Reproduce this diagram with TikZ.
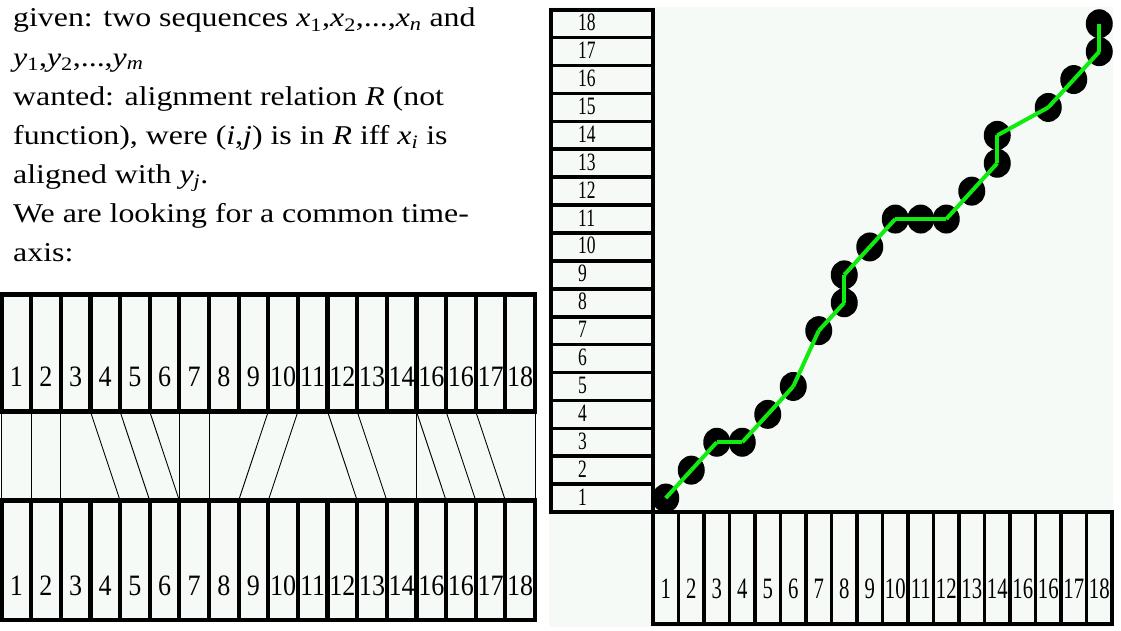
\documentclass[tikz,border=0pt]{standalone}
\usepackage{fontspec}
\setmainfont{Liberation Serif}
\usetikzlibrary{shapes.geometric}

\definecolor{paper}{RGB}{245,250,247}
\definecolor{warp}{RGB}{16,236,16}

\newcommand{\sq}[2]{\textit{#1}\textsubscript{#2}}

\begin{document}
\begin{tikzpicture}[x=1pt,y=-1pt,
    cell/.style={draw, line width=4.2pt, fill=paper, inner sep=0pt, minimum width=29.64pt},
    tick/.style={draw, line width=3.6pt, fill=paper, inner sep=0pt},
    digit/.style={inner sep=0pt, anchor=base, font=\fontsize{29.6}{30}\selectfont},
    rowdigit/.style={inner sep=0pt, anchor=base west, font=\fontsize{25}{26}\selectfont},
    link/.style={line width=0.9pt},
    dot/.style={ellipse, fill=black, inner sep=0pt, minimum width=27pt, minimum height=29pt},
    warppath/.style={warp, line width=4pt}]
  \useasboundingbox (0,0) rectangle (1121,631);

  % task text
  \node[anchor=base west, inner sep=0pt] (task) at (13,27) {\scalebox{1.08}[0.92]{%
    \fontsize{29.5}{42.4}\selectfont
    \begin{tabular}[t]{@{}l@{}}
      given: two sequences \sq{x}{1},\sq{x}{2},...,\sq{x}{\textit{n}} and\\
      \sq{y}{1},\sq{y}{2},...,\sq{y}{\textit{m}}\\
      wanted: alignment relation \textit{R} (not\\
      function), were (\textit{i},\textit{j}) is in \textit{R} iff \sq{x}{\textit{i}} is\\
      aligned with \sq{y}{\textit{j}}.\\
      We are looking for a common time-\\
      axis:
    \end{tabular}}};

  % gap between the two sequences
  \fill[paper] (1.5,411.5) rectangle (535,500.5);
  \foreach \k in {0,...,18} {
    \coordinate (u\k) at ({1.5+\k*29.64},411.5);
    \coordinate (l\k) at ({1.5+\k*29.64},500.5);
  }
  \foreach \a/\b in {0/0,1/1,2/2,3/4,4/5,5/6,6/6,7/7,9/8,10/9,11/12,12/13,14/14,14/15,15/16,16/17,18/18}
    \draw[link] (u\a) -- (l\b);

  % both sequences
  \foreach \a [count=\i] in {1,2,3,4,5,6,7,8,9,10,11,12,13,14,16,16,17,18} {
    \node[cell, minimum height=117pt] (t\i) at ({1.5+(\i-0.5)*29.64},353) {};
    \node[cell, minimum height=119.5pt] (b\i) at ({1.5+(\i-0.5)*29.64},560.25) {};
    \node[digit] at ([yshift=27.5pt]t\i.south) {\scalebox{0.88}[1]{\a}};
    \node[digit] at ([yshift=27pt]b\i.south) {\scalebox{0.88}[1]{\a}};
  }

  % warping plane
  \fill[paper] (549,7) rectangle (1113,627);

  % row labels
  \foreach \n in {1,...,18} {
    \node[tick, minimum width=102pt, minimum height=27.9pt] (r\n) at (602,{512-(\n-0.5)*27.9}) {};
    \node[rowdigit] at (578,{512-(\n-1)*27.9-7}) {\scalebox{0.7}[1]{\n}};
  }

  % column labels
  \foreach \a [count=\i] in {1,2,3,4,5,6,7,8,9,10,11,12,13,14,16,16,17,18} {
    \node[tick, minimum width=25.5pt, minimum height=112pt] (c\i) at ({653+(\i-0.5)*25.5},568) {};
    \node[digit] at ([yshift=27pt]c\i.south) {\scalebox{0.7}[1]{\a}};
  }

  % aligned pairs
  \foreach \x/\y [count=\k] in {1/1,2/2,3/3,4/3,5/4,6/5,7/7,8/8,8/9,9/10,10/11,11/11,12/11,13/12,14/13,14/14,16/15,17/16,18/17,18/18}
    \node[dot] (d\k) at ({653+(\x-0.5)*25.5},{512-(\y-0.5)*27.9}) {};

  % warping path
  \foreach \k [remember=\k as \j (initially 1)] in {2,...,20}
    \draw[warppath] (d\j.center) -- (d\k.center);
\end{tikzpicture}
\end{document}
